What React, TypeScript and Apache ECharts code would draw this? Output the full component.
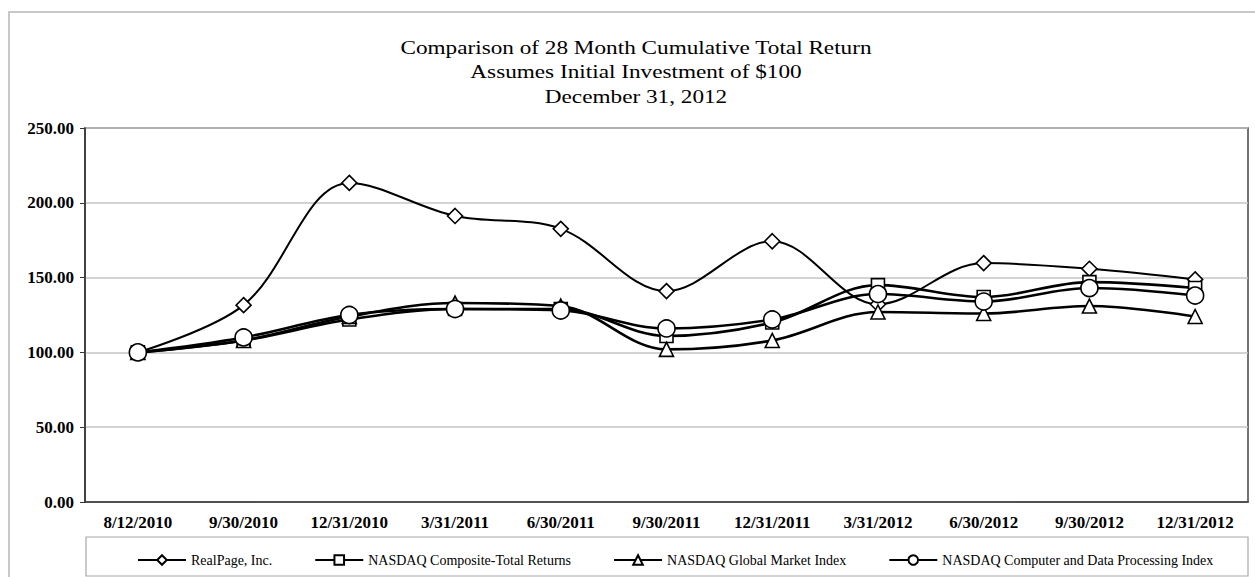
import React, { useEffect, useRef } from "react";
import * as echarts from "echarts";

const categories = [
  "8/12/2010", "9/30/2010", "12/31/2010", "3/31/2011", "6/30/2011", "9/30/2011",
  "12/31/2011", "3/31/2012", "6/30/2012", "9/30/2012", "12/31/2012",
];
const realPage = [100, 131.6, 213.3, 191.2, 182.6, 141.0, 174.3, 132.2, 159.7, 155.9, 148.8];
const nasdaqComposite = [100, 108, 122, 129, 129, 111, 120, 145, 137, 147, 143];
const nasdaqGlobal = [100, 108, 124, 133, 131, 102, 108, 127, 126, 131, 124];
const nasdaqComputer = [100, 110, 125, 129, 128, 116, 122, 139, 134, 143, 138];
const titleLines = [
  "Comparison of 28 Month Cumulative Total Return",
  "Assumes Initial Investment of $100",
  "December 31, 2012",
];

const seriesDefs = [
  { name: "RealPage, Inc.", data: realPage, symbol: "diamond", size: 15, width: 2 },
  { name: "NASDAQ Composite-Total Returns", data: nasdaqComposite, symbol: "rect", size: 13, width: 2.6 },
  { name: "NASDAQ Global Market Index", data: nasdaqGlobal, symbol: "triangle", size: 14, width: 2.6 },
  { name: "NASDAQ Computer and Data Processing Index", data: nasdaqComputer, symbol: "circle", size: 17, width: 2.6 },
];

const FONT = "'Liberation Serif', 'Times New Roman', serif";

export default function App() {
  const ref = useRef<HTMLDivElement>(null);
  useEffect(() => {
    if (!ref.current) return;
    const chart = echarts.init(ref.current, undefined, { renderer: "svg" });
    chart.setOption({
      animation: false,
      backgroundColor: "#fff",
      graphic: [
        {
          type: "rect",
          shape: { x: 9, y: 12, width: 1262, height: 590 },
          style: { fill: "none", stroke: "#c8c8c8", lineWidth: 2 },
          silent: true,
          z: -1,
        },
        {
          type: "rect",
          shape: { x: 86, y: 537, width: 1162, height: 39 },
          style: { fill: "none", stroke: "#a8a8a8", lineWidth: 1.2 },
          silent: true,
        },
        {
          type: "text",
          x: 636,
          y: 35,
          scaleX: 1.29,
          silent: true,
          style: {
            text: titleLines.join("\n"),
            fontFamily: FONT,
            fontSize: 18,
            lineHeight: 24.5,
            fill: "#000",
            align: "center",
            verticalAlign: "top",
          },
        },
      ],
      legend: {
        left: 132,
        top: 548,
        itemWidth: 48,
        itemHeight: 12,
        itemGap: 42,
        textStyle: { fontFamily: FONT, fontSize: 14, color: "#000" },
        data: seriesDefs.map((s) => s.name),
      },
      grid: {
        left: 85,
        right: 7,
        top: 128,
        bottom: 75,
        show: true,
        borderColor: "#444",
        borderWidth: 1.5,
      },
      xAxis: {
        type: "category",
        data: categories,
        boundaryGap: true,
        axisLine: { lineStyle: { color: "#333", width: 1.5 } },
        axisTick: { alignWithLabel: true, inside: true, length: 3, lineStyle: { color: "#333" } },
        axisLabel: {
          fontFamily: FONT,
          fontSize: 17,
          fontWeight: "bold",
          color: "#000",
          margin: 12,
        },
        splitLine: { show: false },
      },
      yAxis: {
        type: "value",
        min: 0,
        max: 250,
        interval: 50,
        axisLine: { show: true, lineStyle: { color: "#333", width: 1.5 } },
        axisTick: { show: true, length: 5, lineStyle: { color: "#333" } },
        axisLabel: {
          fontFamily: FONT,
          fontSize: 17,
          fontWeight: "bold",
          color: "#000",
          margin: 11,
          formatter: (v: number) => v.toFixed(2),
        },
        splitLine: { lineStyle: { color: "#c4c4c4", width: 1.5 } },
      },
      series: seriesDefs.map((s) => ({
        name: s.name,
        type: "line",
        data: s.data,
        smooth: 0.35,
        symbol: s.symbol,
        symbolSize: s.size,
        showSymbol: true,
        lineStyle: { color: "#000", width: s.width },
        itemStyle: { color: "#fff", borderColor: "#000", borderWidth: 1.6 },
        emphasis: { disabled: true },
      })),
    });
    return () => chart.dispose();
  }, []);
  return (
    <div
      ref={ref}
      style={{ position: "absolute", left: 0, top: 0, width: 1255, height: 577 }}
    />
  );
}
